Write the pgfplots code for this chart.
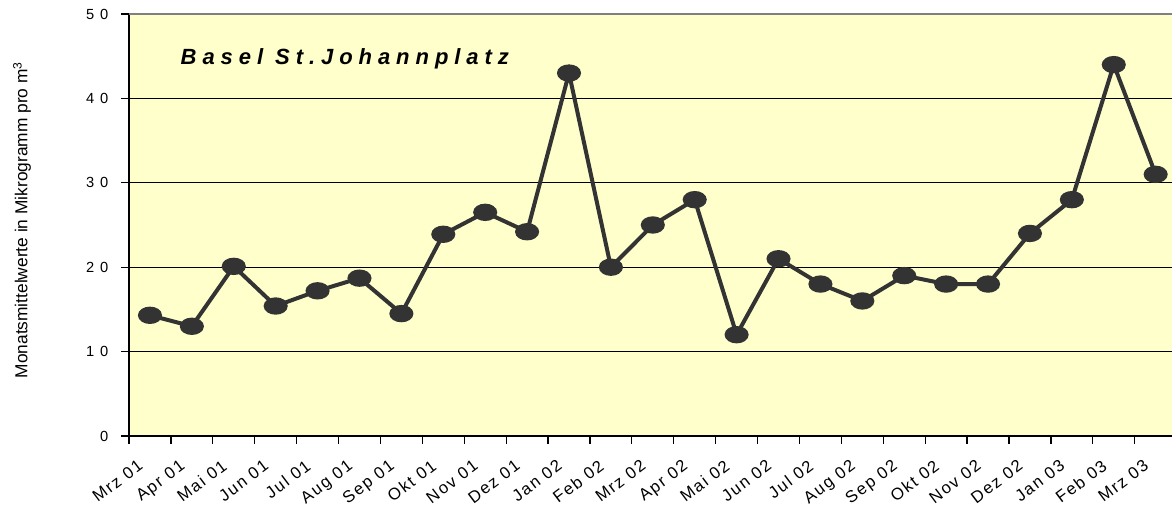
\documentclass[border=0pt]{standalone}
\usepackage{fontspec}
\setmainfont{Liberation Sans}
\newfontfamily\titlefont[LetterSpace=27]{Liberation Sans}
\newfontfamily\ytickfont[LetterSpace=40]{Liberation Sans}
\newfontfamily\xtickfont[LetterSpace=10]{Liberation Sans}
\usepackage{pgfplots}
\pgfplotsset{compat=1.18}
\definecolor{bgyellow}{HTML}{FFFFCC}
\definecolor{linegray}{HTML}{333333}
\definecolor{bordergray}{HTML}{808080}
\begin{document}
\begin{tikzpicture}
\useasboundingbox (0,0) rectangle (879pt,378.75pt);
\begin{axis}[
  at={(96.75pt,51.75pt)}, anchor=south west, scale only axis,
  width=782.25pt, height=316.5pt,
  xmin=-0.5, xmax=24.39, ymin=0, ymax=50,
  axis x line*=bottom, axis y line*=left,
  axis line style={black, line width=1.1pt},
  axis background/.style={fill=bgyellow},
  ytick={0,10,...,50}, yticklabels={0,10,20,30,40,50},
  yticklabel style={font=\ytickfont\fontsize{11}{12}\selectfont, xshift=-6pt},
  ymajorgrids, grid style={black, line width=0.75pt},
  xtick={-0.5,0.5,...,23.5}, xticklabels={},
  extra x ticks={0,1,...,24},
  extra x tick labels={Mrz 01,Apr 01,Mai 01,Jun 01,Jul 01,Aug 01,Sep 01,Okt 01,Nov 01,Dez 01,Jan 02,Feb 02,Mrz 02,Apr 02,Mai 02,Jun 02,Jul 02,Aug 02,Sep 02,Okt 02,Nov 02,Dez 02,Jan 03,Feb 03,Mrz 03},
  extra x tick style={major tick length=0pt, grid=none},
  xticklabel style={xshift=-9.75pt, yshift=-17pt, rotate=37, anchor=north east, font=\xtickfont\fontsize{12.5}{14}\selectfont, inner sep=0pt},
  tick align=outside, major tick length=6pt,
  tick style={black, line width=0.9pt},
  clip=false,
]
\addplot[linegray, line width=3pt, mark=*, mark size=5pt,
  mark options={xscale=1.5, fill=linegray, draw=none}]
  table[x=i, y=v] {
i v
0 14.3
1 13.0
2 20.1
3 15.4
4 17.2
5 18.7
6 14.5
7 23.9
8 26.5
9 24.2
10 43.0
11 20.0
12 25.0
13 28.0
14 12.0
15 21.0
16 18.0
17 16.0
18 19.0
19 18.0
20 18.0
21 24.0
22 28.0
23 44.0
24 31.0
};
\draw[bordergray, line width=1.5pt] (rel axis cs:0,1) -- (rel axis cs:1,1);
\end{axis}
\node[anchor=base west, font=\titlefont\bfseries\itshape\fontsize{16.5}{18}\selectfont] at (132pt,330.5pt) {Basel St.Johannplatz};
\node[rotate=90, anchor=base, font=\fontsize{13}{14}\selectfont] at (20.6pt,213.75pt) {Monatsmittelwerte in Mikrogramm pro m\textsuperscript{3}};
\end{tikzpicture}
\end{document}
